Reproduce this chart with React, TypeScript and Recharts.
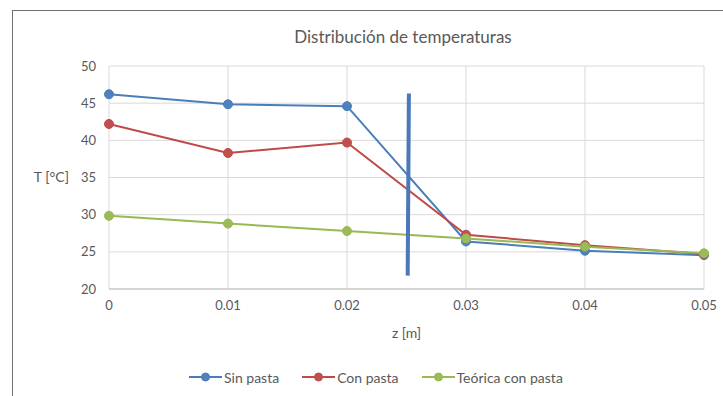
import {
  LineChart,
  Line,
  XAxis,
  YAxis,
  CartesianGrid,
  ReferenceLine,
} from "recharts";

const zValues = [0, 0.01, 0.02, 0.03, 0.04, 0.05];
const sinPasta = [46.2, 44.85, 44.6, 26.4, 25.15, 24.55];
const conPasta = [42.2, 38.3, 39.7, 27.3, 25.9, 24.7];
const teorica = [29.85, 28.8, 27.8, 26.8, 25.7, 24.8];

const xTicks = [0, 0.01, 0.02, 0.03, 0.04, 0.05];
const yTicks = [20, 25, 30, 35, 40, 45, 50];

// interface marker drawn by hand in the sheet (z ~ 0.025)
const interfaceLine = [
  { x: 0.0252, y: 46.3 },
  { x: 0.0251, y: 21.8 },
];

const seriesInfo = [
  { key: "sin", name: "Sin pasta", stroke: "#4a7ebb", fill: "#4f81bd" },
  { key: "con", name: "Con pasta", stroke: "#be4b48", fill: "#c0504d" },
  { key: "teo", name: "Teórica con pasta", stroke: "#98b954", fill: "#9bbb59" },
];

const data = zValues.map((z, i) => ({
  z,
  sin: sinPasta[i],
  con: conPasta[i],
  teo: teorica[i],
}));

const FONT = "Lato, 'Open Sans', sans-serif";
const TEXT = "#595959";

function LegendBox() {
  return (
    <div
      style={{
        position: "absolute",
        left: 189,
        top: 368,
        display: "flex",
        gap: 23,
        fontSize: 14,
        color: TEXT,
        alignItems: "center",
        whiteSpace: "nowrap",
      }}
    >
      {seriesInfo.map((s) => (
        <div key={s.key} style={{ display: "flex", alignItems: "center" }}>
          <svg width={35} height={18}>
            <line x1={0} y1={9} x2={33} y2={9} stroke={s.stroke} strokeWidth={2} />
            <circle cx={16.5} cy={9} r={4} fill={s.fill} stroke={s.stroke} />
          </svg>
          <span>{s.name}</span>
        </div>
      ))}
    </div>
  );
}

export default function App() {
  return (
    <div
      style={{
        position: "absolute",
        left: 0,
        top: 0,
        width: 723,
        height: 396,
        overflow: "hidden",
        background: "#fff",
        fontFamily: FONT,
      }}
    >
      <div
        style={{
          position: "absolute",
          left: 12,
          top: 10,
          width: 800,
          height: 500,
          border: "1px solid #6f6f6f",
          boxSizing: "border-box",
        }}
      />
      <div
        style={{
          position: "absolute",
          left: 0,
          width: 806,
          top: 26,
          textAlign: "center",
          fontSize: 17,
          color: TEXT,
        }}
      >
        Distribución de temperaturas
      </div>
      <div style={{ position: "absolute", left: 0, top: 0 }}>
        <LineChart
          width={723}
          height={396}
          data={data}
          margin={{ top: 66, right: 19, left: 69, bottom: 77 }}
        >
          <CartesianGrid stroke="#d9d9d9" />
          <XAxis
            dataKey="z"
            type="number"
            domain={[0, 0.05]}
            ticks={xTicks}
            tickFormatter={(v: number) => String(v)}
            height={30}
            tickLine={false}
            tickSize={6}
            tickMargin={6}
            axisLine={{ stroke: "#bfbfbf" }}
            tick={{ fill: TEXT, fontSize: 13, fontFamily: FONT }}
            label={{
              value: "z [m]",
              position: "bottom",
              offset: 9,
              fill: TEXT,
              fontSize: 14,
              fontFamily: FONT,
            }}
          />
          <YAxis
            type="number"
            domain={[20, 50]}
            ticks={yTicks}
            width={40}
            tickLine={false}
            axisLine={false}
            tickSize={6}
            tickMargin={7}
            tick={{ fill: TEXT, fontSize: 13, fontFamily: FONT }}
            label={{
              value: "T [°C]",
              position: "left",
              offset: 0,
              fill: TEXT,
              fontSize: 14,
              fontFamily: FONT,
            }}
          />
          {seriesInfo.map((s) => (
            <Line
              key={s.key}
              dataKey={s.key}
              name={s.name}
              type="linear"
              stroke={s.stroke}
              strokeWidth={2}
              dot={{ r: 4.5, fill: s.fill, stroke: s.stroke, strokeWidth: 1 }}
              activeDot={false}
              isAnimationActive={false}
            />
          ))}
          <ReferenceLine
            segment={interfaceLine}
            stroke="#4a78b8"
            strokeWidth={4}
            ifOverflow="visible"
          />
        </LineChart>
      </div>
      <LegendBox />
    </div>
  );
}
